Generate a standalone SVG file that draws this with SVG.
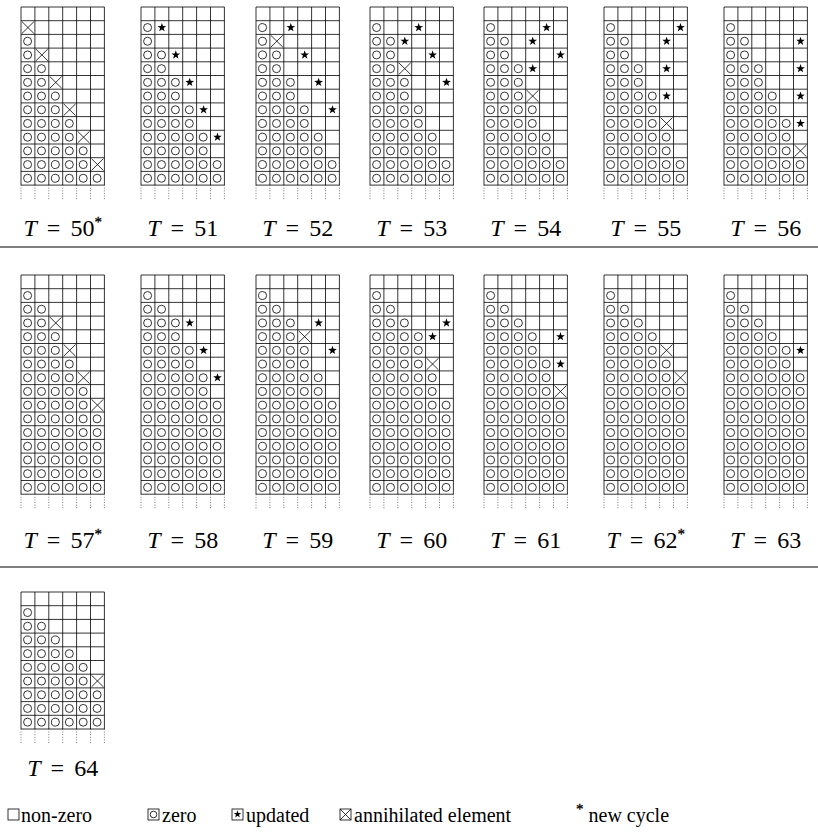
<svg xmlns="http://www.w3.org/2000/svg" width="818" height="832" viewBox="0 0 818 832">
<style>
.gl{fill:none;stroke:#000;stroke-width:0.8}
.dt{fill:none;stroke:#555;stroke-width:0.8;stroke-dasharray:1 1.6}
.sym{fill:none;stroke:#000;stroke-width:0.8}
.lab{font-family:"Liberation Serif","DejaVu Serif",serif;font-size:24px;word-spacing:4px;fill:#000}
.ast{font-size:15px;stroke:#000;stroke-width:0.3}
.leg{font-family:"Liberation Serif","DejaVu Serif",serif;font-size:20px;fill:#000}
.rule{stroke:#000;stroke-width:1}
</style>
<defs>
<circle id="o" cx="6.6" cy="6.85" r="4" class="sym"/>
<path id="s" d="M7 2.25L8.09 5.35L11.37 5.43L8.76 7.42L9.7 10.57L7 8.7L4.3 10.57L5.24 7.42L2.63 5.43L5.91 5.35Z" fill="#000"/>
<path id="x" d="M1 1L12.9 12.7M12.9 1L1 12.7" class="sym"/>
<g id="r1"><use href="#o"/></g>
<g id="r2"><use href="#r1"/><use href="#o" x="13.9"/></g>
<g id="r3"><use href="#r2"/><use href="#o" x="27.8"/></g>
<g id="r4"><use href="#r3"/><use href="#o" x="41.7"/></g>
<g id="r5"><use href="#r4"/><use href="#o" x="55.6"/></g>
<g id="r6"><use href="#r5"/><use href="#o" x="69.5"/></g>
<g id="g13">
<path class="gl" d="M0 0H83.4M0 13.7H83.4M0 27.4H83.4M0 41.1H83.4M0 54.8H83.4M0 68.5H83.4M0 82.2H83.4M0 95.9H83.4M0 109.6H83.4M0 123.3H83.4M0 137H83.4M0 150.7H83.4M0 164.4H83.4M0 178.1H83.4M0 0V178.1M13.9 0V178.1M27.8 0V178.1M41.7 0V178.1M55.6 0V178.1M69.5 0V178.1M83.4 0V178.1"/>
<path class="dt" d="M0 178.1V193M13.9 178.1V193M27.8 178.1V193M41.7 178.1V193M55.6 178.1V193M69.5 178.1V193M83.4 178.1V193"/>
</g>
<g id="g16">
<path class="gl" d="M0 0H83.4M0 13.7H83.4M0 27.4H83.4M0 41.1H83.4M0 54.8H83.4M0 68.5H83.4M0 82.2H83.4M0 95.9H83.4M0 109.6H83.4M0 123.3H83.4M0 137H83.4M0 150.7H83.4M0 164.4H83.4M0 178.1H83.4M0 191.8H83.4M0 205.5H83.4M0 219.2H83.4M0 0V219.2M13.9 0V219.2M27.8 0V219.2M41.7 0V219.2M55.6 0V219.2M69.5 0V219.2M83.4 0V219.2"/>
<path class="dt" d="M0 219.2V234M13.9 219.2V234M27.8 219.2V234M41.7 219.2V234M55.6 219.2V234M69.5 219.2V234M83.4 219.2V234"/>
</g>
<g id="g10">
<path class="gl" d="M0 0H83.4M0 13.7H83.4M0 27.4H83.4M0 41.1H83.4M0 54.8H83.4M0 68.5H83.4M0 82.2H83.4M0 95.9H83.4M0 109.6H83.4M0 123.3H83.4M0 137H83.4M0 0V137M13.9 0V137M27.8 0V137M41.7 0V137M55.6 0V137M69.5 0V137M83.4 0V137"/>
<path class="dt" d="M0 137V152M13.9 137V152M27.8 137V152M41.7 137V152M55.6 137V152M69.5 137V152M83.4 137V152"/>
</g>
<g id="tail16"><use href="#r6" y="178.1"/><use href="#r6" y="191.8"/><use href="#r6" y="205.5"/></g>
</defs>

<!-- Row 1 -->
<g id="t50" transform="translate(21,7)"><use href="#g13"/>
<use href="#x" y="13.7"/>
<use href="#r1" y="27.4"/>
<use href="#r1" y="41.1"/><use href="#x" x="13.9" y="41.1"/>
<use href="#r2" y="54.8"/>
<use href="#r2" y="68.5"/><use href="#x" x="27.8" y="68.5"/>
<use href="#r3" y="82.2"/>
<use href="#r3" y="95.9"/><use href="#x" x="41.7" y="95.9"/>
<use href="#r4" y="109.6"/>
<use href="#r4" y="123.3"/><use href="#x" x="55.6" y="123.3"/>
<use href="#r5" y="137"/>
<use href="#r5" y="150.7"/><use href="#x" x="69.5" y="150.7"/>
<use href="#r6" y="164.4"/>
</g>
<g id="t51" transform="translate(141,7)"><use href="#g13"/>
<use href="#r1" y="13.7"/><use href="#s" x="13.9" y="13.7"/>
<use href="#r1" y="27.4"/>
<use href="#r2" y="41.1"/><use href="#s" x="27.8" y="41.1"/>
<use href="#r2" y="54.8"/>
<use href="#r3" y="68.5"/><use href="#s" x="41.7" y="68.5"/>
<use href="#r3" y="82.2"/>
<use href="#r4" y="95.9"/><use href="#s" x="55.6" y="95.9"/>
<use href="#r4" y="109.6"/>
<use href="#r5" y="123.3"/><use href="#s" x="69.5" y="123.3"/>
<use href="#r5" y="137"/>
<use href="#r6" y="150.7"/>
<use href="#r6" y="164.4"/>
</g>
<g id="t52" transform="translate(256,7)"><use href="#g13"/>
<use href="#r1" y="13.7"/><use href="#s" x="27.8" y="13.7"/>
<use href="#r1" y="27.4"/><use href="#x" x="13.9" y="27.4"/>
<use href="#r2" y="41.1"/><use href="#s" x="41.7" y="41.1"/>
<use href="#r2" y="54.8"/>
<use href="#r3" y="68.5"/><use href="#s" x="55.6" y="68.5"/>
<use href="#r3" y="82.2"/>
<use href="#r4" y="95.9"/><use href="#s" x="69.5" y="95.9"/>
<use href="#r4" y="109.6"/>
<use href="#r5" y="123.3"/>
<use href="#r5" y="137"/>
<use href="#r6" y="150.7"/>
<use href="#r6" y="164.4"/>
</g>
<g id="t53" transform="translate(370,7)"><use href="#g13"/>
<use href="#r1" y="13.7"/><use href="#s" x="41.7" y="13.7"/>
<use href="#r2" y="27.4"/><use href="#s" x="27.8" y="27.4"/>
<use href="#r2" y="41.1"/><use href="#s" x="55.6" y="41.1"/>
<use href="#r2" y="54.8"/><use href="#x" x="27.8" y="54.8"/>
<use href="#r3" y="68.5"/><use href="#s" x="69.5" y="68.5"/>
<use href="#r3" y="82.2"/>
<use href="#r4" y="95.9"/>
<use href="#r4" y="109.6"/>
<use href="#r5" y="123.3"/>
<use href="#r5" y="137"/>
<use href="#r6" y="150.7"/>
<use href="#r6" y="164.4"/>
</g>
<g id="t54" transform="translate(484,7)"><use href="#g13"/>
<use href="#r1" y="13.7"/><use href="#s" x="55.6" y="13.7"/>
<use href="#r2" y="27.4"/><use href="#s" x="41.7" y="27.4"/>
<use href="#r2" y="41.1"/><use href="#s" x="69.5" y="41.1"/>
<use href="#r3" y="54.8"/><use href="#s" x="41.7" y="54.8"/>
<use href="#r3" y="68.5"/>
<use href="#r3" y="82.2"/><use href="#x" x="41.7" y="82.2"/>
<use href="#r4" y="95.9"/>
<use href="#r4" y="109.6"/>
<use href="#r5" y="123.3"/>
<use href="#r5" y="137"/>
<use href="#r6" y="150.7"/>
<use href="#r6" y="164.4"/>
</g>
<g id="t55" transform="translate(604,7)"><use href="#g13"/>
<use href="#r1" y="13.7"/><use href="#s" x="69.5" y="13.7"/>
<use href="#r2" y="27.4"/><use href="#s" x="55.6" y="27.4"/>
<use href="#r2" y="41.1"/>
<use href="#r3" y="54.8"/><use href="#s" x="55.6" y="54.8"/>
<use href="#r3" y="68.5"/>
<use href="#r4" y="82.2"/><use href="#s" x="55.6" y="82.2"/>
<use href="#r4" y="95.9"/>
<use href="#r4" y="109.6"/><use href="#x" x="55.6" y="109.6"/>
<use href="#r5" y="123.3"/>
<use href="#r5" y="137"/>
<use href="#r6" y="150.7"/>
<use href="#r6" y="164.4"/>
</g>
<g id="t56" transform="translate(724,7)"><use href="#g13"/>
<use href="#r1" y="13.7"/>
<use href="#r2" y="27.4"/><use href="#s" x="69.5" y="27.4"/>
<use href="#r2" y="41.1"/>
<use href="#r3" y="54.8"/><use href="#s" x="69.5" y="54.8"/>
<use href="#r3" y="68.5"/>
<use href="#r4" y="82.2"/><use href="#s" x="69.5" y="82.2"/>
<use href="#r4" y="95.9"/>
<use href="#r5" y="109.6"/><use href="#s" x="69.5" y="109.6"/>
<use href="#r5" y="123.3"/>
<use href="#r5" y="137"/><use href="#x" x="69.5" y="137"/>
<use href="#r6" y="150.7"/>
<use href="#r6" y="164.4"/>
</g>

<g id="labels1" class="lab" text-anchor="middle">
<text x="62.7" y="236"><tspan font-style="italic">T</tspan> = 50<tspan class="ast" dy="-9">*</tspan></text>
<text x="182.7" y="236"><tspan font-style="italic">T</tspan> = 51</text>
<text x="297.7" y="236"><tspan font-style="italic">T</tspan> = 52</text>
<text x="411.7" y="236"><tspan font-style="italic">T</tspan> = 53</text>
<text x="525.7" y="236"><tspan font-style="italic">T</tspan> = 54</text>
<text x="645.7" y="236"><tspan font-style="italic">T</tspan> = 55</text>
<text x="765.7" y="236"><tspan font-style="italic">T</tspan> = 56</text>
</g>
<line class="rule" x1="0" y1="247" x2="818" y2="247"/>

<!-- Row 2 -->
<g id="t57" transform="translate(21,275)"><use href="#g16"/>
<use href="#r1" y="13.7"/>
<use href="#r2" y="27.4"/>
<use href="#r2" y="41.1"/><use href="#x" x="27.8" y="41.1"/>
<use href="#r3" y="54.8"/>
<use href="#r3" y="68.5"/><use href="#x" x="41.7" y="68.5"/>
<use href="#r4" y="82.2"/>
<use href="#r4" y="95.9"/><use href="#x" x="55.6" y="95.9"/>
<use href="#r5" y="109.6"/>
<use href="#r5" y="123.3"/><use href="#x" x="69.5" y="123.3"/>
<use href="#r6" y="137"/><use href="#r6" y="150.7"/><use href="#r6" y="164.4"/><use href="#tail16"/>
</g>
<g id="t58" transform="translate(141,275)"><use href="#g16"/>
<use href="#r1" y="13.7"/>
<use href="#r2" y="27.4"/>
<use href="#r3" y="41.1"/><use href="#s" x="41.7" y="41.1"/>
<use href="#r3" y="54.8"/>
<use href="#r4" y="68.5"/><use href="#s" x="55.6" y="68.5"/>
<use href="#r4" y="82.2"/>
<use href="#r5" y="95.9"/><use href="#s" x="69.5" y="95.9"/>
<use href="#r5" y="109.6"/>
<use href="#r6" y="123.3"/><use href="#r6" y="137"/><use href="#r6" y="150.7"/><use href="#r6" y="164.4"/><use href="#tail16"/>
</g>
<g id="t59" transform="translate(256,275)"><use href="#g16"/>
<use href="#r1" y="13.7"/>
<use href="#r2" y="27.4"/>
<use href="#r3" y="41.1"/><use href="#s" x="55.6" y="41.1"/>
<use href="#r3" y="54.8"/><use href="#x" x="41.7" y="54.8"/>
<use href="#r4" y="68.5"/><use href="#s" x="69.5" y="68.5"/>
<use href="#r4" y="82.2"/>
<use href="#r5" y="95.9"/>
<use href="#r5" y="109.6"/>
<use href="#r6" y="123.3"/><use href="#r6" y="137"/><use href="#r6" y="150.7"/><use href="#r6" y="164.4"/><use href="#tail16"/>
</g>
<g id="t60" transform="translate(370,275)"><use href="#g16"/>
<use href="#r1" y="13.7"/>
<use href="#r2" y="27.4"/>
<use href="#r3" y="41.1"/><use href="#s" x="69.5" y="41.1"/>
<use href="#r4" y="54.8"/><use href="#s" x="55.6" y="54.8"/>
<use href="#r4" y="68.5"/>
<use href="#r4" y="82.2"/><use href="#x" x="55.6" y="82.2"/>
<use href="#r5" y="95.9"/>
<use href="#r5" y="109.6"/>
<use href="#r6" y="123.3"/><use href="#r6" y="137"/><use href="#r6" y="150.7"/><use href="#r6" y="164.4"/><use href="#tail16"/>
</g>
<g id="t61" transform="translate(484,275)"><use href="#g16"/>
<use href="#r1" y="13.7"/>
<use href="#r2" y="27.4"/>
<use href="#r3" y="41.1"/>
<use href="#r4" y="54.8"/><use href="#s" x="69.5" y="54.8"/>
<use href="#r4" y="68.5"/>
<use href="#r5" y="82.2"/><use href="#s" x="69.5" y="82.2"/>
<use href="#r5" y="95.9"/>
<use href="#r5" y="109.6"/><use href="#x" x="69.5" y="109.6"/>
<use href="#r6" y="123.3"/><use href="#r6" y="137"/><use href="#r6" y="150.7"/><use href="#r6" y="164.4"/><use href="#tail16"/>
</g>
<g id="t62" transform="translate(604,275)"><use href="#g16"/>
<use href="#r1" y="13.7"/>
<use href="#r2" y="27.4"/>
<use href="#r3" y="41.1"/>
<use href="#r4" y="54.8"/>
<use href="#r4" y="68.5"/><use href="#x" x="55.6" y="68.5"/>
<use href="#r5" y="82.2"/>
<use href="#r5" y="95.9"/><use href="#x" x="69.5" y="95.9"/>
<use href="#r6" y="109.6"/><use href="#r6" y="123.3"/><use href="#r6" y="137"/><use href="#r6" y="150.7"/><use href="#r6" y="164.4"/><use href="#tail16"/>
</g>
<g id="t63" transform="translate(724,275)"><use href="#g16"/>
<use href="#r1" y="13.7"/>
<use href="#r2" y="27.4"/>
<use href="#r3" y="41.1"/>
<use href="#r4" y="54.8"/>
<use href="#r5" y="68.5"/><use href="#s" x="69.5" y="68.5"/>
<use href="#r5" y="82.2"/>
<use href="#r6" y="95.9"/><use href="#r6" y="109.6"/><use href="#r6" y="123.3"/><use href="#r6" y="137"/><use href="#r6" y="150.7"/><use href="#r6" y="164.4"/><use href="#tail16"/>
</g>

<g id="labels2" class="lab" text-anchor="middle">
<text x="62.7" y="548"><tspan font-style="italic">T</tspan> = 57<tspan class="ast" dy="-9">*</tspan></text>
<text x="182.7" y="548"><tspan font-style="italic">T</tspan> = 58</text>
<text x="297.7" y="548"><tspan font-style="italic">T</tspan> = 59</text>
<text x="411.7" y="548"><tspan font-style="italic">T</tspan> = 60</text>
<text x="525.7" y="548"><tspan font-style="italic">T</tspan> = 61</text>
<text x="645.7" y="548"><tspan font-style="italic">T</tspan> = 62<tspan class="ast" dy="-9">*</tspan></text>
<text x="765.7" y="548"><tspan font-style="italic">T</tspan> = 63</text>
</g>
<line class="rule" x1="0" y1="567" x2="818" y2="567"/>

<!-- Row 3 -->
<g id="t64" transform="translate(21,592)"><use href="#g10"/>
<use href="#r1" y="13.7"/>
<use href="#r2" y="27.4"/>
<use href="#r3" y="41.1"/>
<use href="#r4" y="54.8"/>
<use href="#r5" y="68.5"/>
<use href="#r5" y="82.2"/><use href="#x" x="69.5" y="82.2"/>
<use href="#r6" y="95.9"/><use href="#r6" y="109.6"/><use href="#r6" y="123.3"/>
</g>
<text class="lab" x="62.7" y="776" text-anchor="middle"><tspan font-style="italic">T</tspan> = 64</text>

<!-- Legend -->
<g id="legend">
<rect x="8" y="809" width="11" height="11" class="sym"/>
<text class="leg" x="21" y="822">non-zero</text>
<rect x="148" y="809" width="11" height="11" class="sym"/><circle cx="153.5" cy="814.5" r="3.3" class="sym"/>
<text class="leg" x="162" y="822">zero</text>
<rect x="232" y="809" width="11" height="11" class="sym"/><path d="M237.5 810.3L238.4 812.9L241.2 813L239 814.7L239.8 817.4L237.5 815.8L235.2 817.4L236 814.7L233.8 813L236.6 812.9Z" fill="#000"/>
<text class="leg" x="246" y="822">updated</text>
<rect x="340" y="809" width="11" height="11" class="sym"/><path d="M340 809L351 820M351 809L340 820" class="sym"/>
<text class="leg" x="354" y="822">annihilated element</text>
<text class="leg" x="576" y="822"><tspan class="ast" font-size="14" dy="-8">*</tspan><tspan dy="8"> new cycle</tspan></text>
</g>
</svg>
